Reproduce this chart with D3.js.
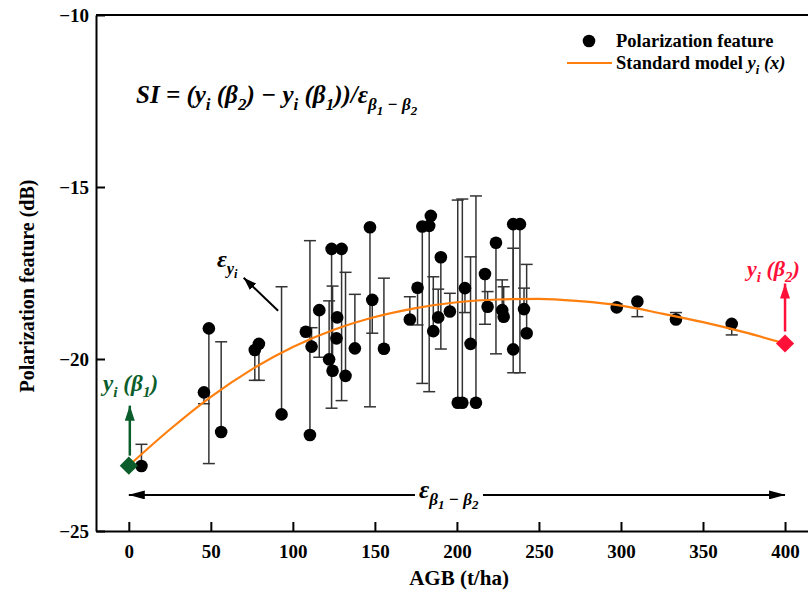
<!DOCTYPE html>
<html>
<head>
<meta charset="utf-8">
<script src="https://cdn.jsdelivr.net/npm/d3@7"></script>
<style>
  body { margin: 0; background: #fff; }
  svg { display: block; }
  text { white-space: pre; }
</style>
</head>
<body>
<svg id="chart" width="808" height="594"></svg>
<script>
// Field samples: above-ground biomass (t/ha), polarization feature (dB)
// and the far end of each sample's error bar (dB).
const agb = [7.7, 45.8, 48.8, 56.3, 76.8, 79.3, 93.1, 107.9, 111.4, 110.4,
  116.1, 123.6, 129.7, 122.1, 124.2, 127.0, 126.6, 132.1, 137.8, 147.0,
  148.4, 155.5, 171.3, 176.0, 178.9, 183.1, 184.1, 185.6, 188.6, 190.2,
  195.7, 200.5, 203.3, 211.6, 204.9, 208.3, 217.1, 218.7, 223.8, 227.6,
  228.5, 234.3, 238.4, 234.3, 240.9, 242.5, 297.4, 310.0, 333.5, 367.5];
const feature = [-23.11, -20.97, -19.11, -22.12, -19.74, -19.56, -21.61, -19.21, -19.64, -22.21,
  -18.58, -16.80, -16.80, -20.01, -20.34, -18.79, -19.40, -20.49, -19.69, -16.17,
  -18.28, -19.70, -18.85, -17.93, -16.15, -16.13, -15.84, -19.19, -18.79, -17.04,
  -18.62, -21.27, -21.27, -21.27, -17.94, -19.56, -17.53, -18.48, -16.62, -18.58,
  -18.77, -16.08, -16.08, -19.72, -18.55, -19.25, -18.50, -18.33, -18.85, -18.98];
const barEnd = [-22.48, -21.30, -23.04, -19.50, -20.62, -20.62, -17.90, -19.21, -19.09, -16.56,
  -19.95, -21.43, -21.21, -18.31, -17.88, -18.79, -19.40, -17.48, -18.12, -21.39,
  -19.25, -17.65, -18.19, -19.01, -20.71, -20.95, -15.84, -17.61, -17.97, -19.71,
  -18.09, -15.38, -15.35, -15.26, -18.65, -17.03, -18.99, -18.04, -19.85, -17.70,
  -17.90, -20.40, -20.40, -16.78, -17.94, -17.25, -18.40, -18.77, -18.65, -19.30];

// Standard model y_i(x) sampled along the AGB axis
const curveAgb = [0, 25, 50, 75, 100, 125, 150, 175, 200, 225, 250, 275, 300, 325, 350, 375, 400];
const curveModel = [-23.1, -22.05, -21.1, -20.3, -19.65, -19.15, -18.78, -18.52, -18.35, -18.27,
  -18.25, -18.32, -18.45, -18.68, -18.93, -19.22, -19.55];

// Model end points y_i(beta1) and y_i(beta2)
const beta1 = [0, -23.1];
const beta2 = [400, -19.55];

const xTicks = [0, 50, 100, 150, 200, 250, 300, 350, 400];
const yTicks = [-25, -20, -15, -10];

const serif = "'Liberation Serif', 'Times New Roman', serif";
const orange = "#ff7f0e";
const green = "#0b5e2c";
const red = "#ff1038";

const svg = d3.select("#chart");
const x = d3.scaleLinear().domain([-20, 414]).range([96, 808]);
const y = d3.scaleLinear().domain([-25, -10]).range([531, 15]);

// arrow heads
const defs = svg.append("defs");
function marker(id, color, len, wid) {
  defs.append("marker")
    .attr("id", id).attr("markerUnits", "userSpaceOnUse")
    .attr("viewBox", `0 0 ${len} ${wid}`)
    .attr("refX", len).attr("refY", wid / 2)
    .attr("markerWidth", len).attr("markerHeight", wid)
    .attr("orient", "auto-start-reverse")
    .append("path").attr("d", `M0,0L${len},${wid / 2}L0,${wid}Z`).attr("fill", color);
}
marker("hBlack", "#000", 16, 9);
marker("hSmall", "#000", 13, 9);
marker("hGreen", green, 15, 10);
marker("hRed", red, 15, 10);

// rich text with sub- and sub-sub-scripts
function rich(sel, parts, fs) {
  let cur = 0;
  parts.forEach(([t, lvl]) => {
    const off = [0, 0.28 * fs, 0.46 * fs][lvl];
    const size = [fs, fs * 0.68, fs * 0.52][lvl];
    sel.append("tspan").attr("dy", off - cur).attr("font-size", size).text(t);
    cur = off;
  });
  return sel;
}

// axes
const xAxis = svg.append("g").attr("transform", "translate(0,531)")
  .call(d3.axisBottom(x).tickValues(xTicks).tickSize(-9).tickSizeOuter(0).tickPadding(14));
const yAxis = svg.append("g").attr("transform", "translate(96,0)")
  .call(d3.axisLeft(y).tickValues(yTicks).tickSize(-9).tickSizeOuter(0).tickPadding(7));
[xAxis, yAxis].forEach(a => {
  a.selectAll("path, line").attr("stroke", "#000").attr("stroke-width", 2);
  a.selectAll("text").attr("font-family", serif).attr("font-weight", "bold")
    .attr("font-size", 19).attr("fill", "#000");
});
svg.append("line").attr("x1", 96).attr("x2", 808).attr("y1", y(-10)).attr("y2", y(-10))
  .attr("stroke", "#000").attr("stroke-width", 2);

// axis titles
svg.append("text").attr("x", 459).attr("y", 585).attr("text-anchor", "middle")
  .attr("font-family", serif).attr("font-weight", "bold").attr("font-size", 21)
  .text("AGB (t/ha)");
svg.append("text").attr("transform", "translate(34,286) rotate(-90)").attr("text-anchor", "middle")
  .attr("font-family", serif).attr("font-weight", "bold").attr("font-size", 20)
  .text("Polarization feature (dB)");

// error bars
const pts = agb.map((a, i) => ({ a, v: feature[i], e: barEnd[i] }));
const bars = svg.append("g").attr("stroke", "#333").attr("stroke-width", 1.5);
pts.forEach(p => {
  if (p.e === p.v) return;
  bars.append("line").attr("x1", x(p.a)).attr("x2", x(p.a)).attr("y1", y(p.v)).attr("y2", y(p.e));
  bars.append("line").attr("x1", x(p.a) - 6).attr("x2", x(p.a) + 6).attr("y1", y(p.e)).attr("y2", y(p.e));
});

// samples
svg.append("g").selectAll("circle").data(pts).join("circle")
  .attr("cx", d => x(d.a)).attr("cy", d => y(d.v)).attr("r", 6.3).attr("fill", "#000");

// standard model curve
const line = d3.line().x(d => x(d[0])).y(d => y(d[1])).curve(d3.curveMonotoneX);
svg.append("path").datum(curveAgb.map((a, i) => [a, curveModel[i]]))
  .attr("d", line).attr("fill", "none").attr("stroke", orange).attr("stroke-width", 2.2);

// epsilon_y_i arrow
svg.append("line").attr("x1", x(91)).attr("y1", y(-18.6)).attr("x2", x(70)).attr("y2", y(-17.64))
  .attr("stroke", "#000").attr("stroke-width", 2).attr("marker-end", "url(#hSmall)");
rich(svg.append("text").attr("x", 217).attr("y", 267)
  .attr("font-family", serif).attr("font-weight", "bold").attr("font-style", "italic"),
  [["ε", 0], ["y", 1], ["i", 2]], 24);

// beta1 / beta2 end markers
const diamond = d3.symbol().type(d3.symbolSquare).size(165);
svg.append("line").attr("x1", x(beta1[0]) + 1).attr("x2", x(beta1[0]) + 1)
  .attr("y1", y(beta1[1]) - 10).attr("y2", y(beta1[1]) - 60)
  .attr("stroke", green).attr("stroke-width", 2.5).attr("marker-end", "url(#hGreen)");
svg.append("line").attr("x1", x(beta2[0])).attr("x2", x(beta2[0]))
  .attr("y1", y(beta2[1]) - 12).attr("y2", y(beta2[1]) - 60)
  .attr("stroke", red).attr("stroke-width", 2.5).attr("marker-end", "url(#hRed)");
svg.append("path").attr("d", diamond)
  .attr("transform", `translate(${x(beta1[0])},${y(beta1[1])}) rotate(45)`).attr("fill", green);
svg.append("path").attr("d", diamond)
  .attr("transform", `translate(${x(beta2[0])},${y(beta2[1])}) rotate(45)`).attr("fill", red);
rich(svg.append("text").attr("x", 103).attr("y", 391).attr("fill", green)
  .attr("font-family", serif).attr("font-weight", "bold").attr("font-style", "italic"),
  [["y", 0], ["i", 1], [" (β", 0], ["1", 1], [")", 0]], 23);
rich(svg.append("text").attr("x", 747).attr("y", 276).attr("fill", red)
  .attr("font-family", serif).attr("font-weight", "bold").attr("font-style", "italic"),
  [["y", 0], ["i", 1], [" (β", 0], ["2", 1], [")", 0]], 22);

// epsilon_beta1-beta2 span arrow
const spanY = y(-23.95);
svg.append("line").attr("x1", x(beta1[0])).attr("x2", x(beta2[0])).attr("y1", spanY).attr("y2", spanY)
  .attr("stroke", "#000").attr("stroke-width", 2)
  .attr("marker-start", "url(#hBlack)").attr("marker-end", "url(#hBlack)");
const spanLabel = svg.append("g");
const spanText = rich(spanLabel.append("text").attr("x", 419).attr("y", spanY + 3)
  .attr("font-family", serif).attr("font-weight", "bold").attr("font-style", "italic"),
  [["ε", 0], ["β", 1], ["1", 2], [" − β", 1], ["2", 2]], 25);
const bb = spanText.node().getBBox();
spanLabel.insert("rect", "text").attr("x", bb.x - 4).attr("y", spanY - 3)
  .attr("width", bb.width + 8).attr("height", 6).attr("fill", "#fff");

// SI formula
rich(svg.append("text").attr("x", 136).attr("y", 103)
  .attr("font-family", serif).attr("font-weight", "bold").attr("font-style", "italic"),
  [["SI = (y", 0], ["i", 1], [" (β", 0], ["2", 1], [") − y", 0], ["i", 1], [" (β", 0], ["1", 1],
   ["))/ε", 0], ["β", 1], ["1", 2], [" − β", 1], ["2", 2]], 25);

// legend
const leg = svg.append("g").attr("font-family", serif).attr("font-weight", "bold").attr("font-size", 18.5);
leg.append("circle").attr("cx", 589).attr("cy", 41).attr("r", 6.3).attr("fill", "#000");
leg.append("text").attr("x", 616).attr("y", 47).text("Polarization feature");
leg.append("line").attr("x1", 567).attr("x2", 612).attr("y1", 63).attr("y2", 63)
  .attr("stroke", orange).attr("stroke-width", 2.2);
const lt = leg.append("text").attr("x", 616).attr("y", 69);
lt.append("tspan").text("Standard model ");
rich(lt.append("tspan").attr("font-style", "italic"), [["y", 0], ["i", 1], [" (x)", 0]], 18.5);
</script>
</body>
</html>
